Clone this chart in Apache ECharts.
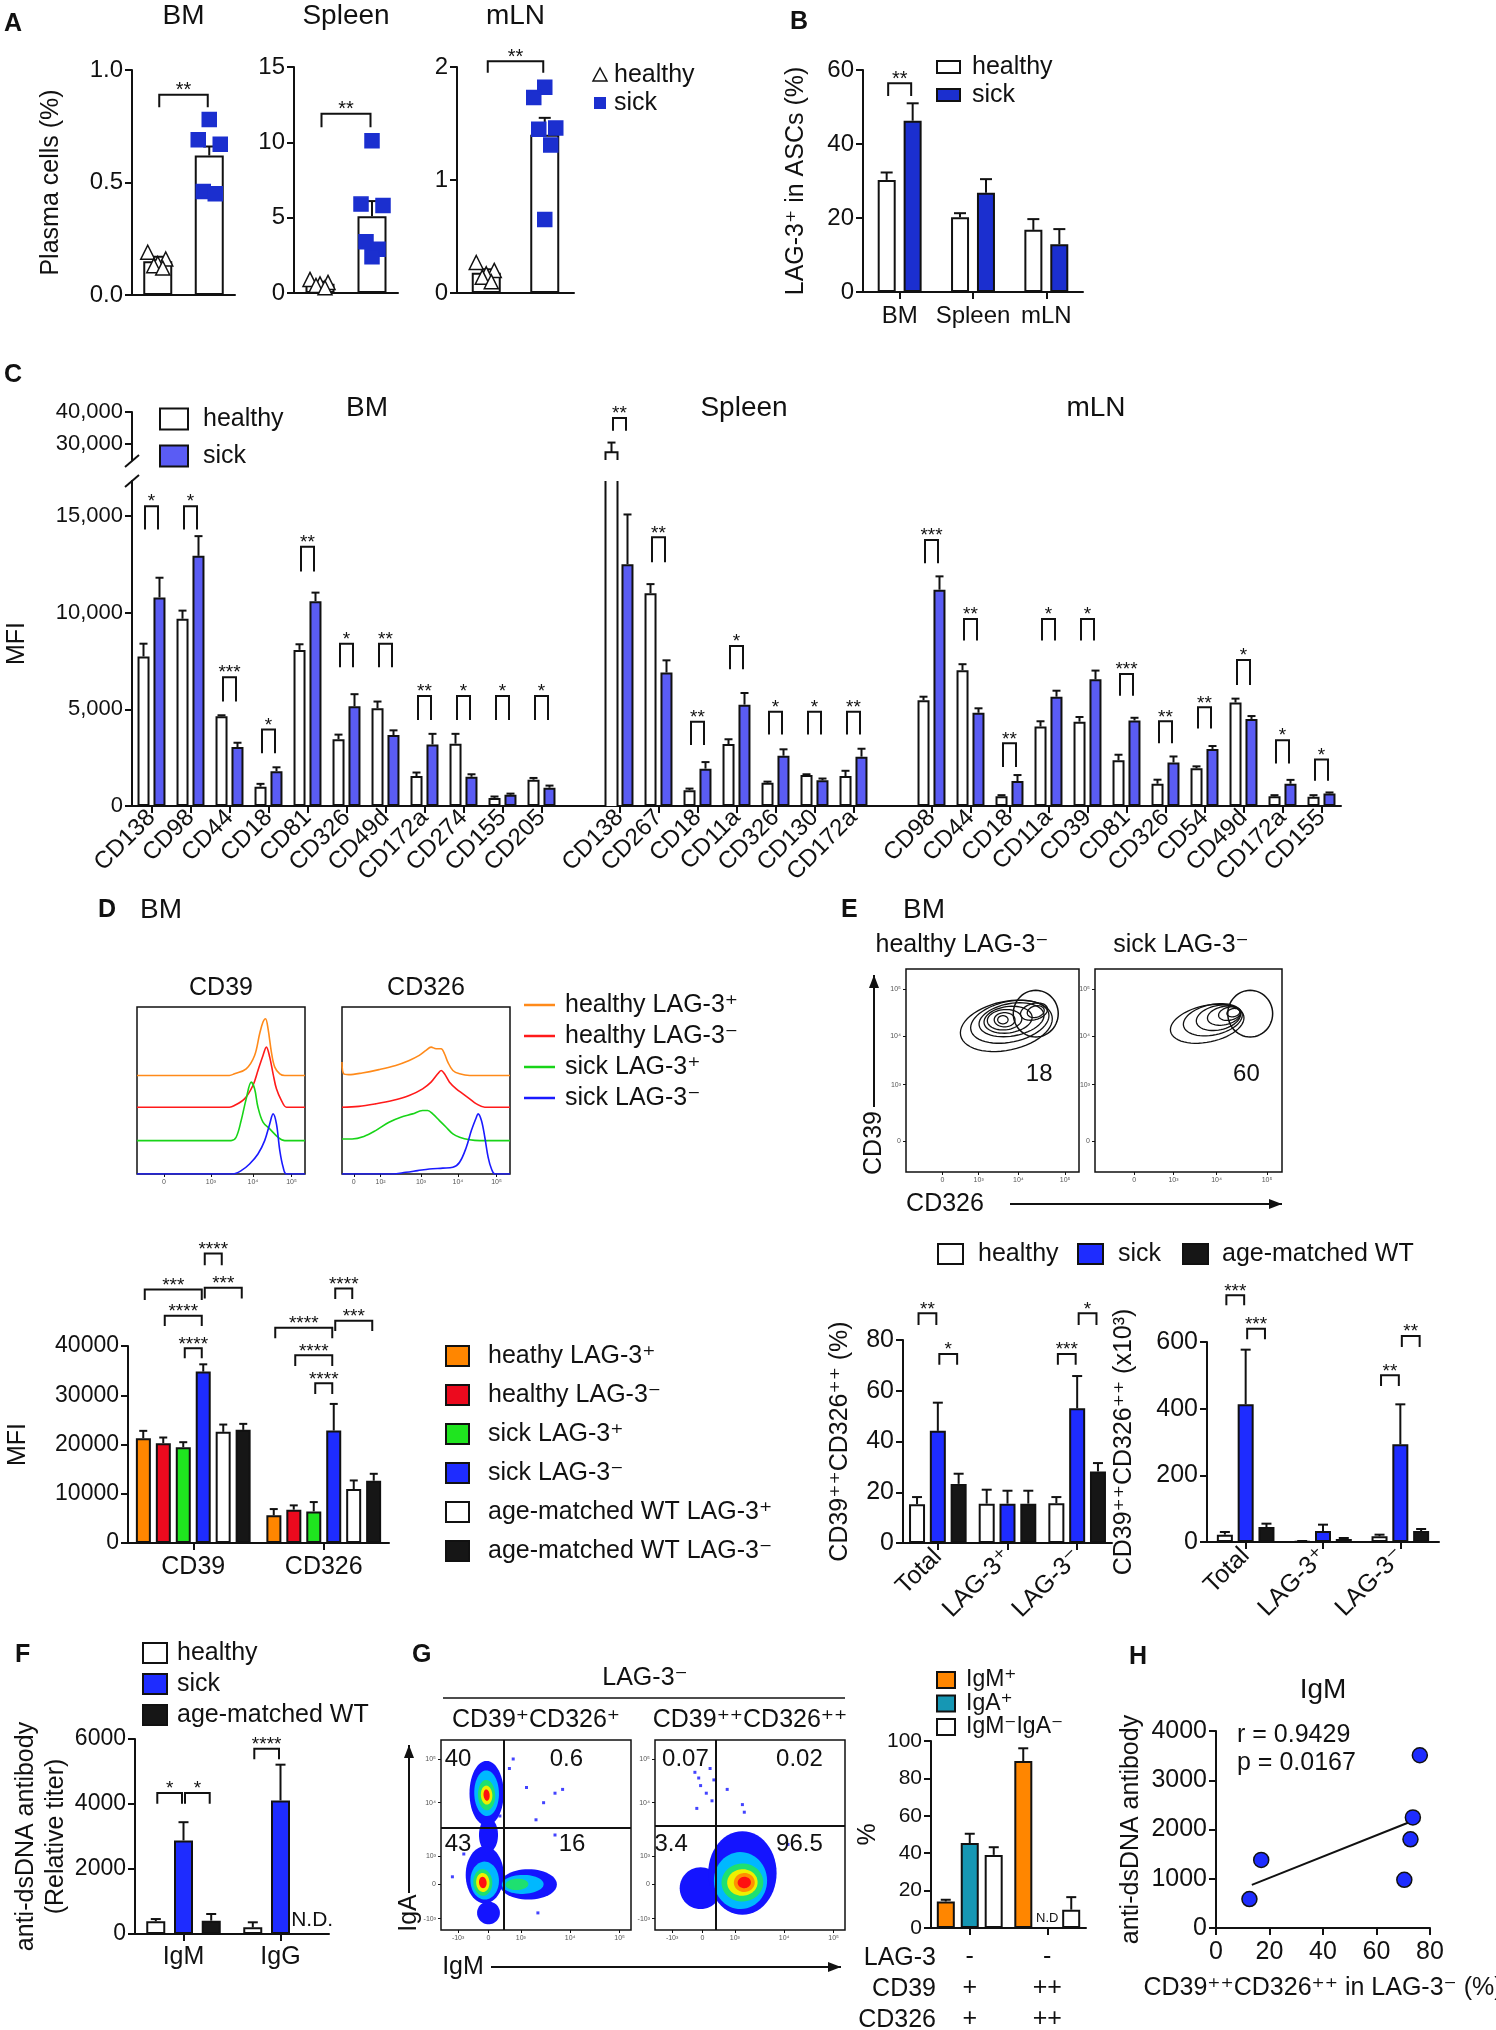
<!DOCTYPE html>
<html>
<head>
<meta charset="utf-8">
<title>LAG-3 negative plasma cells</title>
<script src="https://cdn.jsdelivr.net/npm/echarts@6.0.0/dist/echarts.min.js"></script>
<style>
  html, body { margin: 0; padding: 0; background: #fff; }
  #fig { width: 1496px; height: 2030px; }
</style>
</head>
<body>
<div id="fig"></div>
<script>
// ---------- data ----------
// A: plasma cells (%)
const A_GROUPS = ['healthy', 'sick'];
const A_BM_MEAN = [0.15, 0.62];
const A_BM_ERR = [0.17, 0.66];
const A_BM_HEALTHY = [0.19, 0.16, 0.14, 0.13, 0.12];
const A_BM_SICK = [0.78, 0.69, 0.67, 0.46, 0.45];
const A_SPL_MEAN = [0.62, 5.1];
const A_SPL_ERR = [0.75, 6.1];
const A_SPL_HEALTHY = [0.9, 0.7, 0.6, 0.5, 0.35];
const A_SPL_SICK = [10.1, 5.9, 5.8, 3.4, 2.9, 2.4];
const A_MLN_MEAN = [0.18, 1.4];
const A_MLN_ERR = [0.21, 1.55];
const A_MLN_HEALTHY = [0.27, 0.2, 0.17, 0.14, 0.1];
const A_MLN_SICK = [1.82, 1.73, 1.46, 1.45, 1.31, 0.65];
const A_SIG = [[0.89, 0.834, '**'], [11.9, 11.0, '**'], [2.05, 1.95, '**']];

// B: LAG-3+ in ASCs (%)
const B_TISSUES = ['BM', 'Spleen', 'mLN'];
const B_HEALTHY = [30.3, 20.2, 16.8];
const B_HEALTHY_ERR = [32.3, 21.3, 19.7];
const B_SICK = [46.3, 26.8, 12.9];
const B_SICK_ERR = [51.0, 30.5, 17.0];

// C: MFI per marker
const C_BM_MARKERS = ['CD138', 'CD98', 'CD44', 'CD18', 'CD81', 'CD326', 'CD49d', 'CD172a', 'CD274', 'CD155', 'CD205'];
const C_BM_HEALTHY = [7730, 9680, 4640, 1000, 8070, 3450, 5050, 1545, 3220, 420, 1360];
const C_BM_HEALTHY_ERR = [8390, 10100, 4690, 1145, 8360, 3690, 5400, 1730, 3730, 490, 1450];
const C_BM_SICK = [10780, 12930, 3050, 1800, 10590, 5150, 3670, 3180, 1510, 580, 945];
const C_BM_SICK_ERR = [11800, 13950, 3270, 2000, 11030, 5780, 3910, 3730, 1640, 640, 1055];
const C_BM_SIG = [[15500, 14290, '*'], [15500, 14290, '*'], [6660, 5400, '***'], [3960, 2730, '*'], [13400, 12120, '**'],
  [8390, 7170, '*'], [8390, 7170, '**'], [5690, 4450, '**'], [5690, 4450, '*'], [5690, 4450, '*'], [5690, 4450, '*']];

const C_SPL_MARKERS = ['CD138', 'CD267', 'CD18', 'CD11a', 'CD326', 'CD130', 'CD172a'];
const C_SPL_HEALTHY = [27400, 11000, 820, 3200, 1200, 1600, 1550];
const C_SPL_HEALTHY_ERR = [30450, 11470, 900, 3450, 1260, 1640, 1820];
const C_SPL_SICK = [12500, 6900, 1930, 5240, 2600, 1330, 2550];
const C_SPL_SICK_ERR = [15070, 7530, 2270, 5840, 2930, 1420, 2960];
const C_SPL_SIG = [[38100, 34160, '**'], [13890, 12600, '**'], [4350, 3150, '**'], [8270, 7070, '*'],
  [4870, 3690, '*'], [4870, 3690, '*'], [4870, 3690, '**']];

const C_MLN_MARKERS = ['CD98', 'CD44', 'CD18', 'CD11a', 'CD39', 'CD81', 'CD326', 'CD54', 'CD49d', 'CD172a', 'CD155'];
const C_MLN_HEALTHY = [5470, 7020, 510, 4110, 4360, 2360, 1150, 1950, 5350, 500, 480];
const C_MLN_HEALTHY_ERR = [5650, 7330, 560, 4380, 4600, 2650, 1360, 2050, 5550, 560, 560];
const C_MLN_SICK = [11180, 4820, 1290, 5650, 6550, 4420, 2250, 2950, 4500, 1150, 650];
const C_MLN_SICK_ERR = [11870, 5050, 1600, 5960, 7000, 4560, 2560, 3100, 4650, 1350, 700];
const C_MLN_SIG = [[13750, 12550, '***'], [9670, 8560, '**'], [3240, 2020, '**'], [9670, 8560, '*'], [9670, 8560, '*'],
  [6820, 5700, '***'], [4380, 3250, '**'], [5100, 4000, '**'], [7550, 6260, '*'], [3400, 2200, '*'], [2400, 1300, '*']];

// D: histograms (x in channel %, y in relative counts) and MFI bars
const D_HIST_LABELS = ['healthy LAG-3⁺', 'healthy LAG-3⁻', 'sick LAG-3⁺', 'sick LAG-3⁻'];
const D_CD39_CURVES = [
  [[0, 0], [55, 0], [58, 1], [65, 4], [70, 12], [73, 25], [75, 32], [76.5, 34], [78, 28], [80, 14], [82, 5], [85, 1], [88, 0], [100, 0]],
  [[0, 0], [55, 0], [58, 1], [64, 5], [69, 13], [72, 22], [75, 31], [77, 36], [79, 30], [81, 20], [83, 11], [86, 4], [89, 0], [100, 0]],
  [[0, 0], [56, 0], [59, 2], [62, 12], [65, 25], [68, 35], [70, 31], [72, 20], [75, 11], [79, 7], [84, 2], [88, 0], [100, 0]],
  [[0, 0], [57, 0], [62, 2], [67, 6], [72, 12], [76, 20], [79, 30], [81, 36], [83, 30], [85, 14], [87, 4], [89, 0], [100, 0]]
];
const D_CD326_CURVES = [
  [[0, 8], [1, 1], [4, 0.5], [12, 1.5], [22, 3.5], [32, 6], [40, 9], [46, 12], [50, 15], [53, 17], [56, 16], [59, 16], [61, 13], [63, 8], [66, 3], [70, 1], [76, 0], [100, 0]],
  [[0, 0], [10, 0.5], [20, 2], [30, 4], [40, 7], [48, 11], [53, 15], [57, 20], [59, 22], [61, 20], [64, 15], [68, 11], [72, 8], [76, 5], [80, 2], [85, 0], [100, 0]],
  [[0, 1], [6, 1], [13, 2.5], [20, 6], [28, 11], [35, 14], [42, 16], [48, 18], [51, 18], [54, 16], [58, 12], [62, 8], [66, 4], [70, 2], [76, 0.5], [82, 0], [100, 0]],
  [[0, 0], [30, 0], [38, 1], [45, 2], [52, 3], [60, 3.5], [66, 4], [70, 7], [74, 16], [77, 26], [80, 34], [81, 36], [83, 32], [85, 22], [87, 10], [89, 3], [91, 0], [100, 0]]
];
const D_CD39_TICKS = [[16, '0'], [44, '10³'], [69, '10⁴'], [92, '10⁵']];
const D_CD326_TICKS = [[7, '0'], [23, '10²'], [47, '10³'], [69, '10⁴'], [92, '10⁵']];

const D_MARKERS = ['CD39', 'CD326'];
const D_GROUPS = ['heathy LAG-3⁺', 'healthy LAG-3⁻', 'sick LAG-3⁺', 'sick LAG-3⁻', 'age-matched WT LAG-3⁺', 'age-matched WT LAG-3⁻'];
const D_MEAN = [[21280, 5610], [20270, 6760], [19460, 6420], [34800, 22840], [22570, 10950], [22970, 12640]];
const D_ERR = [[22770, 6890], [21420, 7640], [20470, 8310], [36280, 28240], [24050, 12700], [24190, 14050]];
const D_SIG = [
  [0, 2, 0, 3, 39530, 37500, '****'], [0, 1, 0, 3, 46150, 44050, '****'], [0, 0, 0, 3, 51490, 49320, '***'],
  [0, 3, 0, 5, 51820, 49660, '***'], [0, 3, 0, 4, 58780, 56420, '****'],
  [1, 2, 1, 3, 32430, 30270, '****'], [1, 1, 1, 3, 38110, 35950, '****'], [1, 0, 1, 3, 43720, 41550, '****'],
  [1, 3, 1, 5, 45140, 43040, '***'], [1, 3, 1, 4, 51690, 49530, '****']
];

// E: CD39 vs CD326 contours (cx, cy, rx, ry, tilt) and CD39++CD326++ cells
const E_HEALTHY_CONTOURS = [[58, 72, 27, 12, 12], [60, 74, 23, 10, 12], [61, 75, 19, 8, 10], [59, 75, 14, 6.5, 8],
  [57, 75, 10, 5, 5], [57, 75, 6, 3.5, 0], [56, 75, 3, 2, 0], [74, 79, 8, 4, 15], [75, 79, 5, 2.8, 15]];
const E_SICK_CONTOURS = [[60, 73, 20, 9, 12], [63, 75, 16, 7.5, 12], [66, 76, 12, 6, 12], [69, 77, 9, 4.5, 12],
  [72, 78, 6, 3.2, 12], [74, 78.5, 3.5, 2, 12]];
const E_GATES = [[75, 78, 13, 11.5, 0], [83, 78, 12, 11.5, 0]];
const E_GATE_PCT = [[77, 48, '18'], [81, 48, '60']];
const E_X_TICKS = [[21, '0'], [42, '10³'], [65, '10⁴'], [92, '10⁵']];
const E_Y_TICKS = [[15, '0'], [43, '10³'], [67, '10⁴'], [90, '10⁵']];

const E_CATS = ['Total', 'LAG-3⁺', 'LAG-3⁻'];
const E_GROUPS = ['healthy', 'sick', 'age-matched WT'];
const E_PCT = [[15.3, 15.5, 15.7], [44.2, 15.5, 53.1], [23.3, 15.5, 28.2]];
const E_PCT_ERR = [[18.1, 21.0, 18.1], [55.3, 20.6, 65.8], [27.3, 20.6, 31.5]];
const E_PCT_SIG = [[0, 0, 0, 1, 90.5, 85.9, '**'], [0, 1, 0, 2, 74.5, 70.2, '*'], [2, 0, 2, 1, 74.5, 70.2, '***'], [2, 1, 2, 2, 90.5, 85.9, '*']];
const E_NUM = [[22, 2, 17], [413, 33, 293], [45, 9, 33]];
const E_NUM_ERR = [[30, 3, 22], [577, 52, 413], [55, 12, 39]];
const E_NUM_SIG = [[0, 0, 0, 1, 740, 710, '***'], [0, 1, 0, 2, 640, 608, '***'], [2, 0, 2, 1, 500, 468, '**'], [2, 1, 2, 2, 618, 585, '**']];

// F: anti-dsDNA titers
const F_ISOTYPES = ['IgM', 'IgG'];
const F_GROUPS = ['healthy', 'sick', 'age-matched WT'];
const F_TITER = [[390, 205], [2880, 4110], [410, null]];
const F_TITER_ERR = [[460, 360], [3440, 5210], [615, null]];
const F_SIG = [[0, 0, 0, 1, 4340, 4010, '*'], [0, 1, 0, 2, 4340, 4010, '*'], [1, 0, 1, 1, 5700, 5380, '****']];
const F_ND = [[1, 2]];

// G: IgA vs IgM density (cx, cy, rx, ry, level) and isotype bars
const G_DENSITY_1 = [
  [24, 72, 9, 17, 0], [25, 50, 5, 9, 0], [23, 29, 10, 15, 0], [46, 24, 15, 8, 0], [25, 9, 6, 6, 0],
  [24, 72, 6.5, 12, 1], [23, 26, 7.5, 10, 1], [43, 24, 11, 5, 1],
  [24, 71, 4.5, 8, 2], [22, 25, 5, 7, 2], [40, 24, 6, 3, 2],
  [24, 71, 3, 5, 3], [22, 25, 3.5, 5, 3],
  [24, 71, 1.6, 3, 5], [22, 25, 2, 3, 5]
];
const G_DENSITY_2 = [
  [24, 22, 11, 11, 0], [46, 30, 18, 22, 0],
  [45, 26, 14, 15, 1], [46, 25, 11, 10, 2], [46, 25, 8, 7, 3], [47, 25, 5.5, 5, 4], [47, 25, 3.5, 3, 5]
];
const G_DOTS_1 = [[45, 75], [54, 67], [60, 72], [64, 74], [50, 58], [38, 90], [36, 85], [60, 50], [51, 9], [6, 28], [31, 60], [12, 40]];
const G_DOTS_2 = [[21, 83], [23, 80], [24, 76], [27, 72], [29, 85], [31, 79], [38, 74], [46, 66], [47, 62], [22, 64], [30, 68], [70, 45]];
const G_QUAD = [[33, 54], [32, 55]];
const G_QUAD_TEXT_1 = [[9, 90, '40'], [66, 90, '0.6'], [9, 45, '43'], [69, 45, '16']];
const G_QUAD_TEXT_2 = [[16, 90, '0.07'], [76, 90, '0.02'], [8.5, 45, '3.4'], [76, 45, '96.5']];
const G_X_TICKS = [[9, '-10³'], [25, '0'], [42, '10³'], [68, '10⁴'], [94, '10⁵']];
const G_Y_TICKS = [[6, '-10³'], [24, '0'], [39, '10³'], [67, '10⁴'], [90, '10⁵']];

const G_SUBSETS = ['IgM⁺', 'IgA⁺', 'IgM⁻IgA⁻'];
const G_ROWS = ['LAG-3', 'CD39', 'CD326'];
const G_ROW_VALUES = [['-', '+', '+'], ['-', '++', '++']];
const G_PCT = [[14.2, 89.3], [45.4, null], [39.1, 9.8]];
const G_PCT_ERR = [[15.1, 96.1], [50.4, null], [43.2, 16.5]];
const G_ND = [[1, 1]];

// H: correlation
const H_X = [12.5, 16.9, 70.4, 72.7, 73.6, 76.2];
const H_Y = [587, 1383, 978, 1801, 2246, 3508];
const H_FIT = [[13.4, 877], [72.7, 2158]];

// ---------- style ----------
const FONT = "'Liberation Sans', Arial, 'DejaVu Sans', sans-serif";
const INK = '#111111';
const WHITE = '#ffffff';
const BLUE_DARK = '#1b2fcf';
const BLUE_C = '#5a5cf4';
const BLUE = '#1e2cff';
const ORANGE = '#ff8600';
const RED = '#ec0a1e';
const GREEN = '#1fe51f';
const TEAL = '#1697b4';
const BLACK = '#161616';
const HIST_COLORS = ['#ff8a1a', '#ff1a1a', '#18d418', '#1a1aff'];
const HIST_OFFSET = [59, 40, 20, 0];
const DENSITY = ['#1414ff', '#00b8ff', '#1ee070', '#eef000', '#ff9000', '#ff1010'];

const grid = [], xAxis = [], yAxis = [], series = [], graphic = [];

const LINE = { show: true, onZero: false, lineStyle: { color: INK, width: 2 } };
const TICK = { show: true, length: 7, lineStyle: { color: INK, width: 2 } };

function panel(rect, xa, ya) {
  const i = grid.length;
  grid.push(Object.assign({ outerBoundsMode: 'none', containLabel: false }, rect));
  xAxis.push(Object.assign({ gridIndex: i }, xa));
  yAxis.push(Object.assign({ gridIndex: i }, ya));
  return i;
}

function valAxis(min, max, interval, size, o = {}) {
  const ax = {
    type: 'value', min, max, interval,
    axisLine: LINE, splitLine: { show: false },
    axisTick: Object.assign({}, TICK),
    axisLabel: { color: INK, fontSize: size, fontFamily: FONT, margin: o.margin || 9,
      formatter: o.formatter || (v => String(v)) }
  };
  if (o.ticks) { ax.axisTick.customValues = o.ticks; ax.axisLabel.customValues = o.ticks; }
  if (o.name) {
    Object.assign(ax, {
      name: o.name, nameLocation: 'middle', nameRotate: o.x ? 0 : 90, nameGap: o.gap,
      nameTextStyle: { color: INK, fontSize: o.nameSize || 25, fontFamily: FONT, lineHeight: 30 }
    });
  }
  return ax;
}

function catAxis(data, size, o = {}) {
  return {
    type: 'category', data,
    axisLine: LINE,
    axisTick: { show: true, alignWithLabel: true, length: 7, lineStyle: { color: INK, width: 2 },
      interval: (i, v) => v !== '' },
    axisLabel: { color: INK, fontSize: size, fontFamily: FONT, interval: 0, margin: o.margin || 10,
      rotate: o.rotate || 0, lineHeight: o.lineHeight },
    splitLine: { show: false }
  };
}

function flowAxis(ticks) {
  const vals = ticks.map(t => t[0]);
  return {
    type: 'value', min: 0, max: 100, splitLine: { show: false }, axisLine: { show: false },
    axisTick: { show: true, length: 3, customValues: vals, lineStyle: { color: INK, width: 1 } },
    axisLabel: { show: true, customValues: vals, fontSize: 7, color: '#555', margin: 5, fontFamily: FONT,
      formatter: v => { const t = ticks.find(t => t[0] === v); return t ? t[1] : ''; } }
  };
}

const FRAME = { show: true, borderColor: INK, borderWidth: 1.5, backgroundColor: 'rgba(0,0,0,0)' };

function off(k, n, step) { return (k - (n - 1) / 2) * step; }

function barSeries(gi, data, color, w, gap) {
  return {
    type: 'bar', xAxisIndex: gi, yAxisIndex: gi, data, barWidth: w, barGap: gap, silent: true, z: 2,
    itemStyle: { color, borderColor: INK, borderWidth: 2 }
  };
}

// bar crossing an axis break: only the sides (and the top when it ends inside the segment)
function brokenBarSeries(gi, values, color, k, n, step, w, lo, hi) {
  const data = [];
  values.forEach((v, i) => { if (v != null && v > lo && v > hi - (hi - lo) * 10 && v > (lo === 0 ? hi : lo)) data.push([i, v]); });
  return {
    type: 'custom', xAxisIndex: gi, yAxisIndex: gi, data, silent: true, z: 2,
    renderItem(params, api) {
      const v = api.value(1);
      const top = Math.min(v, hi);
      const pb = api.coord([api.value(0), lo]), pt = api.coord([api.value(0), top]);
      const x = pb[0] + off(k, n, step), x1 = x - w / 2, x2 = x + w / 2;
      const sides = v <= hi ? [[x1, pb[1]], [x1, pt[1]], [x2, pt[1]], [x2, pb[1]]] : null;
      return { type: 'group', children: [
        { type: 'rect', shape: { x: x1, y: pt[1], width: w, height: pb[1] - pt[1] }, style: { fill: color } },
        sides
          ? { type: 'polyline', shape: { points: sides }, style: { stroke: INK, lineWidth: 2, fill: 'none' } }
          : { type: 'group', children: [
              { type: 'line', shape: { x1, y1: pb[1], x2: x1, y2: pt[1] }, style: { stroke: INK, lineWidth: 2 } },
              { type: 'line', shape: { x1: x2, y1: pb[1], x2, y2: pt[1] }, style: { stroke: INK, lineWidth: 2 } }] }
      ] };
    }
  };
}

function errorSeries(gi, means, tops, k, n, step, capHalf, keep) {
  const data = [];
  means.forEach((m, i) => {
    if (m == null || tops[i] == null) return;
    if (keep && !keep(m, tops[i])) return;
    data.push([i, tops[i], m]);
  });
  return {
    type: 'custom', xAxisIndex: gi, yAxisIndex: gi, data, silent: true, z: 3,
    renderItem(params, api) {
      const top = api.coord([api.value(0), api.value(1)]);
      const base = api.coord([api.value(0), api.value(2)]);
      const x = top[0] + off(k, n, step);
      const st = { stroke: INK, lineWidth: 2 };
      return { type: 'group', children: [
        { type: 'line', shape: { x1: x, y1: base[1], x2: x, y2: top[1] }, style: st },
        { type: 'line', shape: { x1: x - capHalf, y1: top[1], x2: x + capHalf, y2: top[1] }, style: st }
      ] };
    }
  };
}

function bracketSeries(gi, list, n, step, size) {
  return {
    type: 'custom', xAxisIndex: gi, yAxisIndex: gi, silent: true, z: 4,
    data: list.map(b => b.slice(0, 6)),
    renderItem(params, api) {
      const b = list[params.dataIndex];
      const p1 = api.coord([b[0], b[4]]), p2 = api.coord([b[2], b[4]]), pl = api.coord([b[0], b[5]]);
      const x1 = p1[0] + off(b[1], n, step) + 1.5, x2 = p2[0] + off(b[3], n, step) - 1.5;
      return { type: 'group', children: [
        { type: 'polyline', shape: { points: [[x1, pl[1]], [x1, p1[1]], [x2, p1[1]], [x2, pl[1]]] },
          style: { stroke: INK, lineWidth: 2, fill: 'none' } },
        { type: 'text', x: (x1 + x2) / 2, y: p1[1] - 4,
          style: { text: b[6], fill: INK, fontSize: size, fontFamily: FONT, align: 'center', verticalAlign: 'middle' } }
      ] };
    }
  };
}

function textSeries(gi, list, size, anchor) {
  return {
    type: 'custom', xAxisIndex: gi, yAxisIndex: gi, silent: true, z: 6,
    data: list.map(t => [t[0], t[1]]),
    renderItem(params, api) {
      const p = api.coord([api.value(0), api.value(1)]);
      const t = list[params.dataIndex];
      const s = anchor(t);
      return { type: 'text', x: p[0] + s.dx, y: p[1] + s.dy,
        style: { text: s.text, fill: INK, fontSize: size, fontFamily: FONT, align: 'center', verticalAlign: s.va || 'middle' } };
    }
  };
}

function ellipsePts(api, e) {
  const c = api.coord([e[0], e[1]]);
  const s = api.size([e[2], e[3]]);
  const a = (e[4] || 0) * Math.PI / 180;
  const pts = [];
  for (let k = 0; k < 56; k++) {
    const t = k / 56 * Math.PI * 2;
    const ex = s[0] * Math.cos(t), ey = s[1] * Math.sin(t);
    pts.push([c[0] + ex * Math.cos(a) - ey * Math.sin(a), c[1] - (ex * Math.sin(a) + ey * Math.cos(a))]);
  }
  return pts;
}

function ellipseSeries(gi, list, styleOf) {
  return {
    type: 'custom', xAxisIndex: gi, yAxisIndex: gi, silent: true, z: 3, data: list,
    renderItem(params, api) {
      const e = list[params.dataIndex];
      return { type: 'polygon', shape: { points: ellipsePts(api, e) }, style: styleOf(e) };
    }
  };
}

function dotSeries(gi, cat, values, symbol, color, border, size, jitter) {
  return {
    type: 'scatter', xAxisIndex: gi, yAxisIndex: gi, silent: true, z: 5, symbol, symbolSize: size,
    itemStyle: { color, borderColor: border, borderWidth: 1.5, opacity: 1 },
    data: values.map((v, i) => ({ value: [cat, v], symbolOffset: [jitter[i % jitter.length], 0] }))
  };
}

function label(x, y, str, size, align, o = {}) {
  graphic.push({
    type: 'text', x, y, rotation: o.rotate || 0, silent: true, z: 10,
    style: { text: str, fill: INK, fontSize: size, fontFamily: FONT, fontWeight: o.bold ? 'bold' : 'normal',
      align: align || 'left', verticalAlign: 'middle' }
  });
}

function box(x, y, w, h, fill) {
  graphic.push({ type: 'rect', silent: true, z: 10, shape: { x, y: y - h / 2, width: w, height: h },
    style: { fill, stroke: INK, lineWidth: 2 } });
}

function segment(x1, y1, x2, y2, color, width) {
  graphic.push({ type: 'line', silent: true, z: 10, shape: { x1, y1, x2, y2 },
    style: { stroke: color || INK, lineWidth: width || 2 } });
}

function arrow(x1, y1, x2, y2) {
  segment(x1, y1, x2, y2, INK, 2);
  const a = Math.atan2(y2 - y1, x2 - x1), L = 13, W = 5;
  graphic.push({ type: 'polygon', silent: true, z: 10, shape: { points: [[x2, y2],
    [x2 - L * Math.cos(a) + W * Math.sin(a), y2 - L * Math.sin(a) - W * Math.cos(a)],
    [x2 - L * Math.cos(a) - W * Math.sin(a), y2 - L * Math.sin(a) + W * Math.cos(a)]] },
    style: { fill: INK } });
}

const fmtK = v => v.toLocaleString('en-US');

// ---------- A ----------
const A_SPECS = [
  { title: 'BM', rect: { left: 132, top: 70, width: 103, height: 225 }, max: 1, step: 0.5, digits: 1,
    mean: A_BM_MEAN, err: A_BM_ERR, h: A_BM_HEALTHY, s: A_BM_SICK, sig: A_SIG[0] },
  { title: 'Spleen', rect: { left: 294, top: 67, width: 104, height: 226 }, max: 15, step: 5, digits: 0,
    mean: A_SPL_MEAN, err: A_SPL_ERR, h: A_SPL_HEALTHY, s: A_SPL_SICK, sig: A_SIG[1] },
  { title: 'mLN', rect: { left: 457, top: 67, width: 117, height: 226 }, max: 2, step: 1, digits: 0,
    mean: A_MLN_MEAN, err: A_MLN_ERR, h: A_MLN_HEALTHY, s: A_MLN_SICK, sig: A_SIG[2] }
];
A_SPECS.forEach((s, n) => {
  const gi = panel(s.rect,
    { type: 'category', data: A_GROUPS, axisLine: LINE, axisTick: { show: false }, axisLabel: { show: false } },
    valAxis(0, s.max, s.step, 24, Object.assign({ formatter: v => v.toFixed(s.digits) },
      n === 0 ? { name: 'Plasma cells (%)', gap: 66 } : {})));
  series.push(barSeries(gi, s.mean, WHITE, 29, '0%'));
  series.push(errorSeries(gi, s.mean, s.err, 0, 1, 0, 6));
  series.push(dotSeries(gi, 0, s.h, 'triangle', WHITE, INK, 14, [-10, 8, 0, -4, 5]));
  series.push(dotSeries(gi, 1, s.s, 'rect', BLUE_DARK, BLUE_DARK, 14, [0, -11, 11, -6, 6, 0]));
  series.push(bracketSeries(gi, [[0, 0, 1, 0, s.sig[0], s.sig[1], s.sig[2]]], 1, 0, 20));
  label(s.rect.left + s.rect.width / 2, 16, s.title, 28, 'center');
});
graphic.push({ type: 'polygon', silent: true, z: 10, shape: { points: [[600, 68], [593, 81], [607, 81]] },
  style: { fill: WHITE, stroke: INK, lineWidth: 1.5 } });
graphic.push({ type: 'rect', silent: true, z: 10, shape: { x: 594, y: 97, width: 12, height: 12 }, style: { fill: BLUE_DARK } });
label(614, 75, 'healthy', 25);
label(614, 103, 'sick', 25);

// ---------- B ----------
const gB = panel({ left: 863, top: 70, width: 220, height: 222 }, catAxis(B_TISSUES, 24, { margin: 12 }),
  valAxis(0, 60, 20, 24, { name: 'LAG-3⁺ in ASCs (%)', gap: 52 }));
series.push(barSeries(gB, B_HEALTHY, WHITE, 18, '44%'));
series.push(barSeries(gB, B_SICK, BLUE_DARK, 18, '44%'));
series.push(errorSeries(gB, B_HEALTHY, B_HEALTHY_ERR, 0, 2, 26, 6));
series.push(errorSeries(gB, B_SICK, B_SICK_ERR, 1, 2, 26, 6));
series.push(bracketSeries(gB, [[0, 0, 0, 1, 56.4, 53, '**']], 2, 26, 20));
box(937, 67, 23, 12, WHITE); label(972, 67, 'healthy', 25);
box(937, 95, 23, 12, BLUE_DARK); label(972, 95, 'sick', 25);

// ---------- C (broken y axis) ----------
const slots = (a, b, c) => [...a, null, ...b, null, ...c];
const C_CATS = [...C_BM_MARKERS, '', ...C_SPL_MARKERS, '', ...C_MLN_MARKERS];
const C_H = slots(C_BM_HEALTHY, C_SPL_HEALTHY, C_MLN_HEALTHY);
const C_HE = slots(C_BM_HEALTHY_ERR, C_SPL_HEALTHY_ERR, C_MLN_HEALTHY_ERR);
const C_S = slots(C_BM_SICK, C_SPL_SICK, C_MLN_SICK);
const C_SE = slots(C_BM_SICK_ERR, C_SPL_SICK_ERR, C_MLN_SICK_ERR);
const C_SIG = slots(C_BM_SIG, C_SPL_SIG, C_MLN_SIG);
const C_LOW_MAX = 16800, C_UP_MIN = 25000, C_UP_MAX = 40000;
const C_BRACKETS = [];
C_SIG.forEach((s, i) => { if (s) C_BRACKETS.push([i, 0, i, 1, s[0], s[1], s[2]]); });

const cUp = panel({ left: 132, top: 412, width: 1209, height: 48 },
  { type: 'category', data: C_CATS, show: false },
  valAxis(C_UP_MIN, C_UP_MAX, 5000, 22, { ticks: [30000, 40000], formatter: fmtK }));
const cLow = panel({ left: 132, top: 481, width: 1209, height: 325 },
  catAxis(C_CATS, 24, { rotate: 45, margin: 8 }),
  valAxis(0, C_LOW_MAX, 5000, 22, { ticks: [0, 5000, 10000, 15000], formatter: fmtK, name: 'MFI', gap: 100 }));
const lowOnly = a => a.map(v => (v != null && v <= C_LOW_MAX ? v : null));
[[C_H, C_HE, WHITE], [C_S, C_SE, BLUE_C]].forEach((g, k) => {
  series.push(brokenBarSeries(cUp, g[0], g[2], k, 2, 16, 12, C_UP_MIN, C_UP_MAX));
  series.push(errorSeries(cUp, g[0], g[1], k, 2, 16, 4, m => m >= C_UP_MIN));
  series.push(barSeries(cLow, lowOnly(g[0]), g[2], 12, '33%'));
  series.push(brokenBarSeries(cLow, g[0], g[2], k, 2, 16, 12, 0, C_LOW_MAX));
  series.push(errorSeries(cLow, g[0], g[1], k, 2, 16, 4, (m, t) => t <= C_LOW_MAX));
});
series.push(bracketSeries(cUp, C_BRACKETS.filter(b => b[4] > C_LOW_MAX), 2, 16, 19));
series.push(bracketSeries(cLow, C_BRACKETS.filter(b => b[4] <= C_LOW_MAX), 2, 16, 19));
segment(125, 467, 139, 455); segment(125, 487, 139, 475);
label(367, 408, 'BM', 28, 'center');
label(744, 408, 'Spleen', 28, 'center');
label(1096, 408, 'mLN', 28, 'center');
box(160, 419, 28, 21, WHITE); label(203, 419, 'healthy', 25);
box(160, 456, 28, 21, BLUE_C); label(203, 456, 'sick', 25);

// ---------- D ----------
label(98, 910, 'D', 25, 'left', { bold: true });
label(140, 910, 'BM', 28);
[[137, D_CD39_CURVES, D_CD39_TICKS, 'CD39', 168], [342, D_CD326_CURVES, D_CD326_TICKS, 'CD326', 168]].forEach(h => {
  const gi = panel(Object.assign({ left: h[0], top: 1007, width: h[4], height: 167 }, FRAME),
    flowAxis(h[2]), { type: 'value', min: 0, max: 100, show: false });
  h[1].forEach((c, i) => series.push({
    type: 'line', xAxisIndex: gi, yAxisIndex: gi, silent: true, smooth: 0.35, symbol: 'none',
    lineStyle: { color: HIST_COLORS[i], width: 1.6 }, data: c.map(p => [p[0], p[1] + HIST_OFFSET[i]])
  }));
  label(h[0] + h[4] / 2, 988, h[3], 25, 'center');
});
D_HIST_LABELS.forEach((t, i) => {
  const y = 1005 + i * 31;
  segment(524, y, 555, y, HIST_COLORS[i], 2.5);
  label(565, y, t, 25);
});

const D_COLORS = [ORANGE, RED, GREEN, BLUE, WHITE, BLACK];
const gD = panel({ left: 128, top: 1346, width: 261, height: 197 }, catAxis(D_MARKERS, 25, { margin: 12 }),
  valAxis(0, 40000, 10000, 23, { name: 'MFI', gap: 95 }));
D_GROUPS.forEach((g, k) => {
  series.push(barSeries(gD, D_MEAN[k], D_COLORS[k], 15, '33%'));
  series.push(errorSeries(gD, D_MEAN[k], D_ERR[k], k, 6, 20, 4));
});
series.push(bracketSeries(gD, D_SIG, 6, 20, 19));
D_GROUPS.forEach((g, k) => {
  const y = 1356 + k * 39;
  box(446, y, 23, 20, D_COLORS[k]);
  label(488, y, g, 25);
});

// ---------- E ----------
label(841, 910, 'E', 25, 'left', { bold: true });
label(903, 910, 'BM', 28);
[[906, 173, 962, 'healthy LAG-3⁻', E_HEALTHY_CONTOURS], [1095, 187, 1181, 'sick LAG-3⁻', E_SICK_CONTOURS]].forEach((p, i) => {
  const gi = panel(Object.assign({ left: p[0], top: 969, width: p[1], height: 203 }, FRAME),
    flowAxis(E_X_TICKS), flowAxis(E_Y_TICKS));
  series.push(ellipseSeries(gi, p[4], () => ({ fill: 'none', stroke: INK, lineWidth: 1.3 })));
  series.push(ellipseSeries(gi, [E_GATES[i]], () => ({ fill: 'none', stroke: INK, lineWidth: 1.5 })));
  series.push(textSeries(gi, [E_GATE_PCT[i]], 24, t => ({ dx: 0, dy: 0, text: t[2] })));
  label(p[2], 945, p[3], 25, 'center');
});
arrow(874, 1107, 874, 975);
label(874, 1143, 'CD39', 25, 'center', { rotate: Math.PI / 2 });
arrow(1010, 1204, 1282, 1204);
label(945, 1204, 'CD326', 25, 'center');

const E_COLORS = [WHITE, BLUE, BLACK];
const gE1 = panel({ left: 903, top: 1340, width: 209, height: 203 }, catAxis(E_CATS, 25, { rotate: 45, margin: 10 }),
  valAxis(0, 80, 20, 25, { name: 'CD39⁺⁺CD326⁺⁺ (%)', gap: 48 }));
const gE2 = panel({ left: 1207, top: 1342, width: 232, height: 200 }, catAxis(E_CATS, 25, { rotate: 45, margin: 10 }),
  valAxis(0, 600, 200, 25, { name: 'CD39⁺⁺CD326⁺⁺ (x10³)', gap: 68 }));
E_GROUPS.forEach((g, k) => {
  series.push(barSeries(gE1, E_PCT[k], E_COLORS[k], 16, '30%'));
  series.push(errorSeries(gE1, E_PCT[k], E_PCT_ERR[k], k, 3, 20.8, 5));
  series.push(barSeries(gE2, E_NUM[k], E_COLORS[k], 16, '30%'));
  series.push(errorSeries(gE2, E_NUM[k], E_NUM_ERR[k], k, 3, 20.8, 5));
});
series.push(bracketSeries(gE1, E_PCT_SIG, 3, 20.8, 19));
series.push(bracketSeries(gE2, E_NUM_SIG, 3, 20.8, 19));
[[938, 978], [1078, 1118], [1183, 1222]].forEach((p, k) => {
  box(p[0], 1254, 25, 20, E_COLORS[k]);
  label(p[1], 1254, E_GROUPS[k], 25);
});

// ---------- F ----------
label(15, 1655, 'F', 25, 'left', { bold: true });
const gF = panel({ left: 135, top: 1739, width: 194, height: 195 }, catAxis(F_ISOTYPES, 25, { margin: 11 }),
  valAxis(0, 6000, 2000, 23, { name: 'anti-dsDNA antibody\n(Relative titer)', gap: 64 }));
F_GROUPS.forEach((g, k) => {
  series.push(barSeries(gF, F_TITER[k], E_COLORS[k], 19, '46%'));
  series.push(errorSeries(gF, F_TITER[k], F_TITER_ERR[k], k, 3, 27.7, 5));
  box(143, 1653 + k * 31, 24, 20, E_COLORS[k]);
  label(177, 1653 + k * 31, g, 25);
});
series.push(bracketSeries(gF, F_SIG, 3, 27.7, 19));
series.push(textSeries(gF, F_ND.map(d => [d[0], 0, d[1]]), 21, t => ({ dx: off(t[2], 3, 27.7) + 4, dy: -3, va: 'bottom', text: 'N.D.' })));

// ---------- G ----------
label(412, 1655, 'G', 25, 'left', { bold: true });
label(645, 1678, 'LAG-3⁻', 25, 'center');
segment(443, 1698, 845, 1698, INK, 1.5);
[[441, 'CD39⁺CD326⁺', G_DENSITY_1, G_DOTS_1, G_QUAD_TEXT_1, G_QUAD[0]],
 [655, 'CD39⁺⁺CD326⁺⁺', G_DENSITY_2, G_DOTS_2, G_QUAD_TEXT_2, G_QUAD[1]]].forEach(p => {
  const gi = panel(Object.assign({ left: p[0], top: 1740, width: 190, height: 190 }, FRAME),
    flowAxis(G_X_TICKS), flowAxis(G_Y_TICKS));
  series.push(ellipseSeries(gi, p[2], e => ({ fill: DENSITY[e[4]], stroke: 'none' })));
  series.push({
    type: 'scatter', xAxisIndex: gi, yAxisIndex: gi, silent: true, z: 4, symbol: 'rect', symbolSize: 3,
    itemStyle: { color: DENSITY[0] }, data: p[3],
    markLine: { silent: true, symbol: 'none', label: { show: false }, lineStyle: { color: INK, width: 2, type: 'solid' },
      data: [{ xAxis: p[5][0] }, { yAxis: p[5][1] }] }
  });
  series.push(textSeries(gi, p[4], 24, t => ({ dx: 0, dy: 0, text: t[2] })));
  label(p[0] + 95, 1720, p[1], 25, 'center');
});
arrow(409, 1893, 409, 1745);
label(409, 1913, 'IgA', 25, 'center', { rotate: Math.PI / 2 });
arrow(491, 1967, 841, 1967);
label(463, 1967, 'IgM', 25, 'center');

const G_COLORS = [ORANGE, TEAL, WHITE];
const gG = panel({ left: 931, top: 1741, width: 155, height: 187 },
  catAxis(G_ROW_VALUES.map(r => r.join('\n')), 25, { margin: 14, lineHeight: 31 }),
  valAxis(0, 100, 20, 21, { name: '%', gap: 44 }));
G_SUBSETS.forEach((g, k) => {
  series.push(barSeries(gG, G_PCT[k], G_COLORS[k], 18, '33%'));
  series.push(errorSeries(gG, G_PCT[k], G_PCT_ERR[k], k, 3, 24, 5));
  box(937, 1680 + k * 23.5, 18, 16, G_COLORS[k]);
  label(966, 1680 + k * 23.5, g, 23);
});
series.push(textSeries(gG, G_ND.map(d => [d[0], 0, d[1]]), 13, t => ({ dx: off(t[2], 3, 24), dy: -3, va: 'bottom', text: 'N.D' })));
G_ROWS.forEach((r, i) => label(936, 1958 + i * 31, r, 25, 'right'));

// ---------- H ----------
label(1129, 1657, 'H', 25, 'left', { bold: true });
const gH = panel({ left: 1216, top: 1731, width: 214, height: 197 },
  valAxis(0, 80, 20, 25, { name: 'CD39⁺⁺CD326⁺⁺ in LAG-3⁻ (%)', gap: 45, x: true, margin: 12 }),
  valAxis(0, 4000, 1000, 25, { name: 'anti-dsDNA antibody', gap: 70 }));
series.push({ type: 'line', xAxisIndex: gH, yAxisIndex: gH, data: H_FIT, symbol: 'none', silent: true,
  lineStyle: { color: INK, width: 2 }, z: 3 });
series.push({ type: 'scatter', xAxisIndex: gH, yAxisIndex: gH, silent: true, symbol: 'circle', symbolSize: 15, z: 4,
  itemStyle: { color: BLUE, borderColor: INK, borderWidth: 1.5, opacity: 1 },
  data: H_X.map((x, i) => [x, H_Y[i]]) });
label(1323, 1690, 'IgM', 28, 'center');
label(1237, 1735, 'r = 0.9429', 25);
label(1237, 1763, 'p = 0.0167', 25);

// ---------- panel letters ----------
label(4, 24, 'A', 25, 'left', { bold: true });
label(790, 22, 'B', 25, 'left', { bold: true });
label(4, 375, 'C', 25, 'left', { bold: true });

const chart = echarts.init(document.getElementById('fig'), null, { renderer: 'canvas' });
chart.setOption({
  animation: false,
  backgroundColor: '#ffffff',
  textStyle: { fontFamily: FONT, color: INK },
  grid, xAxis, yAxis, series, graphic
});
window.onresize = () => chart.resize();
</script>
</body>
</html>
